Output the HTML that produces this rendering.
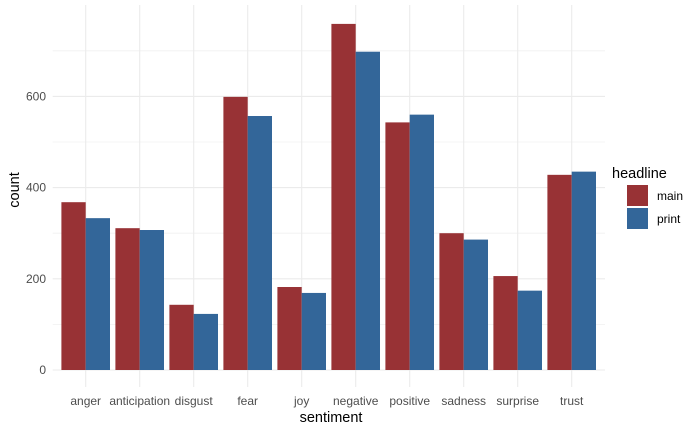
<!DOCTYPE html>
<html><head><meta charset="utf-8"><style>
body{margin:0;background:#fff}
svg{font-family:"Liberation Sans",Arial,sans-serif}
</style></head><body>
<svg id="c" width="700" height="432" xmlns="http://www.w3.org/2000/svg"></svg>
<script>
const categories=["anger","anticipation","disgust","fear","joy","negative","positive","sadness","surprise","trust"];
const mainValues=[368,311,143,599,182,759,543,300,206,428];
const printValues=[333,307,123,557,169,698,560,286,174,435];
const yTicks=[0,200,400,600];
const yMinor=[100,300,500,700];
const NS="http://www.w3.org/2000/svg";
const svg=document.getElementById('c');
const x0=57,x1=605,yTop=5,yBase=370;
const k=0.456;
const step=54,firstC=85.7;
const y=v=>yBase-v*k;
const xc=i=>firstC+i*step;
function el(t,a,p){const e=document.createElementNS(NS,t);for(const n in a)e.setAttribute(n,a[n]);(p||svg).appendChild(e);return e;}
const grid=el('g',{});


yMinor.forEach(v=>{el('line',{x1:52.7,x2:x1,y1:y(v),y2:y(v),stroke:'#f0f0f0','stroke-width':0.8},grid);});
yTicks.forEach(v=>{el('line',{x1:52.7,x2:x1,y1:y(v),y2:y(v),stroke:'#ebebeb','stroke-width':1.1},grid);});
categories.forEach((c,i)=>{el('line',{x1:xc(i),x2:xc(i),y1:yTop,y2:387,stroke:'#ebebeb','stroke-width':1.1},grid);});
const bw=step*0.9/2;
categories.forEach((c,i)=>{
 const m=el('rect',{x:xc(i)-bw,y:y(mainValues[i]),width:bw,height:mainValues[i]*k,fill:'#983235'});
 
 
 const p=el('rect',{x:xc(i),y:y(printValues[i]),width:bw,height:printValues[i]*k,fill:'#336699'});
 
 
 const t=el('text',{x:xc(i),y:405,'text-anchor':'middle','font-size':12,fill:'#4d4d4d'});
 t.textContent=c;
 
 
});
yTicks.forEach(v=>{
 const t=el('text',{x:46,y:y(v)+4,'text-anchor':'end','font-size':12,fill:'#4d4d4d'});
 t.textContent=v;
 
 
});
const xt=el('text',{x:331,y:422,'text-anchor':'middle','font-size':14.5,fill:'#000'});
xt.textContent='sentiment';


const yt=el('text',{x:0,y:0,transform:'translate(19,190) rotate(-90)','text-anchor':'middle','font-size':14.5,fill:'#000'});
yt.textContent='count';


const lt=el('text',{x:612,y:178,'font-size':14.5,fill:'#000'});
lt.textContent='headline';


[['main','#983235',185],['print','#336699',208]].forEach(([n,col,yy])=>{
 const g=el('g',{});
 
 
 el('rect',{x:627,y:yy,width:21,height:21,fill:col},g);
 const t=el('text',{x:657,y:yy+15,'font-size':12,fill:'#000'},g);
 t.textContent=n;
});
</script>
</body></html>
